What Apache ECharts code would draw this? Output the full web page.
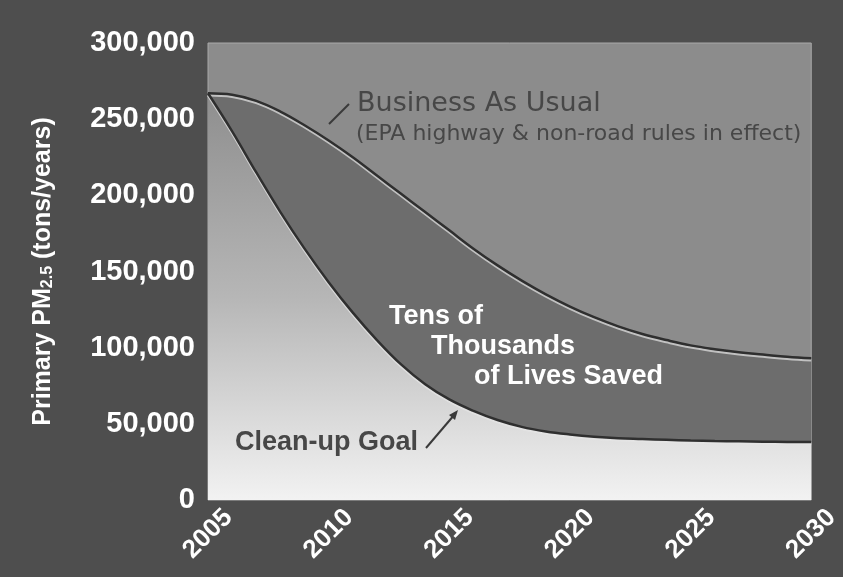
<!DOCTYPE html>
<html>
<head>
<meta charset="utf-8">
<script src="https://cdn.jsdelivr.net/npm/echarts@6/dist/echarts.min.js"></script>
<style>
  html, body { margin: 0; padding: 0; background: #4e4e4e; }
  #chart { width: 843px; height: 577px; }
</style>
</head>
<body>
<div id="chart"></div>
<script type="text/javascript">
// years on the x axis
const years = [2005, 2006, 2007, 2008, 2009, 2010, 2011, 2012, 2013, 2014, 2015, 2016, 2017,
  2018, 2019, 2020, 2021, 2022, 2023, 2024, 2025, 2026, 2027, 2028, 2029, 2030];

// primary PM2.5, tons/year
const businessAsUsual = [267000, 266000, 262000, 255000, 246000, 236000, 225000, 213000, 201000,
  189000, 177000, 165000, 154000, 144000, 135000, 127000, 120000, 114000, 109000, 105000,
  101500, 99000, 97000, 95500, 94000, 93000];
const cleanUpGoal = [267000, 242000, 215000, 189000, 165000, 143000, 123000, 105000, 89000,
  76000, 66000, 58500, 52500, 48000, 45000, 43000, 41500, 40500, 40000, 39500, 39000, 38700,
  38500, 38300, 38100, 38000];

const xTicks = [2005, 2010, 2015, 2020, 2025, 2030];
const yTicks = [0, 50000, 100000, 150000, 200000, 250000, 300000];

const chart = echarts.init(document.getElementById("chart"));

function toPairs(values) {
  return years.map((y, i) => [y, values[i]]);
}

const darkText = {
  fill: "#474747",
  textShadowColor: "rgba(235,235,235,0.75)",
  textShadowOffsetX: 1,
  textShadowOffsetY: 1,
  textShadowBlur: 0
};

chart.setOption({
  backgroundColor: "#4e4e4e",
  animation: false,
  grid: {
    left: 208,
    right: 31,
    top: 43,
    bottom: 77,
    show: true,
    backgroundColor: "#8c8c8c",
    borderColor: "#a9a9a9",
    borderWidth: 1
  },
  xAxis: {
    type: "value",
    min: xTicks[0],
    max: xTicks[xTicks.length - 1],
    interval: 5,
    axisLine: { show: false },
    axisTick: { show: false },
    splitLine: { show: false },
    axisLabel: {
      rotate: 45,
      align: "center",
      verticalAlign: "middle",
      margin: 34,
      color: "#ffffff",
      fontFamily: "Liberation Sans",
      fontWeight: "bold",
      fontSize: 26,
      formatter: v => String(v)
    }
  },
  yAxis: {
    type: "value",
    min: yTicks[0],
    max: yTicks[yTicks.length - 1],
    interval: 50000,
    axisLine: { show: false },
    axisTick: { show: false },
    splitLine: { show: false },
    axisLabel: {
      margin: 13,
      color: "#ffffff",
      fontFamily: "Liberation Sans",
      fontWeight: "bold",
      fontSize: 29,
      formatter: v => v.toLocaleString("en-US")
    },
    name: "{a|Primary PM}{s|2.5}{a| (tons/years)}",
    nameLocation: "middle",
    nameRotate: 90,
    nameGap: 152,
    nameTextStyle: {
      rich: {
        a: { color: "#ffffff", fontFamily: "Liberation Sans", fontWeight: "bold", fontSize: 25 },
        s: { color: "#ffffff", fontFamily: "Liberation Sans", fontWeight: "bold", fontSize: 16, verticalAlign: "bottom", padding: [9, 0, 0, 0] }
      }
    }
  },
  series: [
    {
      name: "Business As Usual",
      type: "line",
      smooth: 0.4,
      symbol: "none",
      data: toPairs(businessAsUsual),
      lineStyle: {
        color: "#2f2f2f",
        width: 2.5,
        shadowColor: "rgba(230,230,230,0.7)",
        shadowOffsetY: 2
      },
      areaStyle: { color: "#6d6d6d", opacity: 1 },
      z: 2
    },
    {
      name: "Clean-up Goal",
      type: "line",
      smooth: 0.4,
      symbol: "none",
      data: toPairs(cleanUpGoal),
      lineStyle: {
        color: "#2f2f2f",
        width: 2.5,
        shadowColor: "rgba(230,230,230,0.7)",
        shadowOffsetY: 2
      },
      areaStyle: {
        opacity: 1,
        color: new echarts.graphic.LinearGradient(0, 0, 0, 1, [
          { offset: 0, color: "#8e8e8e" },
          { offset: 0.5, color: "#b6b6b6" },
          { offset: 1, color: "#f2f2f2" }
        ])
      },
      z: 3
    }
  ],
  graphic: [
    {
      type: "text", left: 357, top: 90, z: 10,
      style: Object.assign({ text: "Business As Usual", font: "27px 'DejaVu Sans'" }, darkText)
    },
    {
      type: "text", left: 356, top: 123, z: 10,
      style: Object.assign({ text: "(EPA highway & non-road rules in effect)", font: "22px 'DejaVu Sans'" }, darkText)
    },
    {
      type: "line", z: 10,
      shape: { x1: 329, y1: 124, x2: 349, y2: 104 },
      style: { stroke: "#3a3a3a", lineWidth: 2 }
    },
    {
      type: "text", left: 389, top: 303, z: 10,
      style: { text: "Tens of", font: "bold 27px 'Liberation Sans'", fill: "#ffffff" }
    },
    {
      type: "text", left: 431, top: 333, z: 10,
      style: { text: "Thousands", font: "bold 27px 'Liberation Sans'", fill: "#ffffff" }
    },
    {
      type: "text", left: 474, top: 363, z: 10,
      style: { text: "of Lives Saved", font: "bold 27px 'Liberation Sans'", fill: "#ffffff" }
    },
    {
      type: "text", left: 235, top: 429, z: 10,
      style: Object.assign({ text: "Clean-up Goal", font: "bold 27px 'Liberation Sans'" }, darkText)
    },
    {
      type: "line", z: 10,
      shape: { x1: 426, y1: 448, x2: 455, y2: 414 },
      style: { stroke: "#3a3a3a", lineWidth: 2 }
    },
    {
      type: "polygon", z: 10,
      shape: { points: [[458, 410], [449, 415], [455, 420]] },
      style: { fill: "#3a3a3a" }
    }
  ]
});
</script>
</body>
</html>
